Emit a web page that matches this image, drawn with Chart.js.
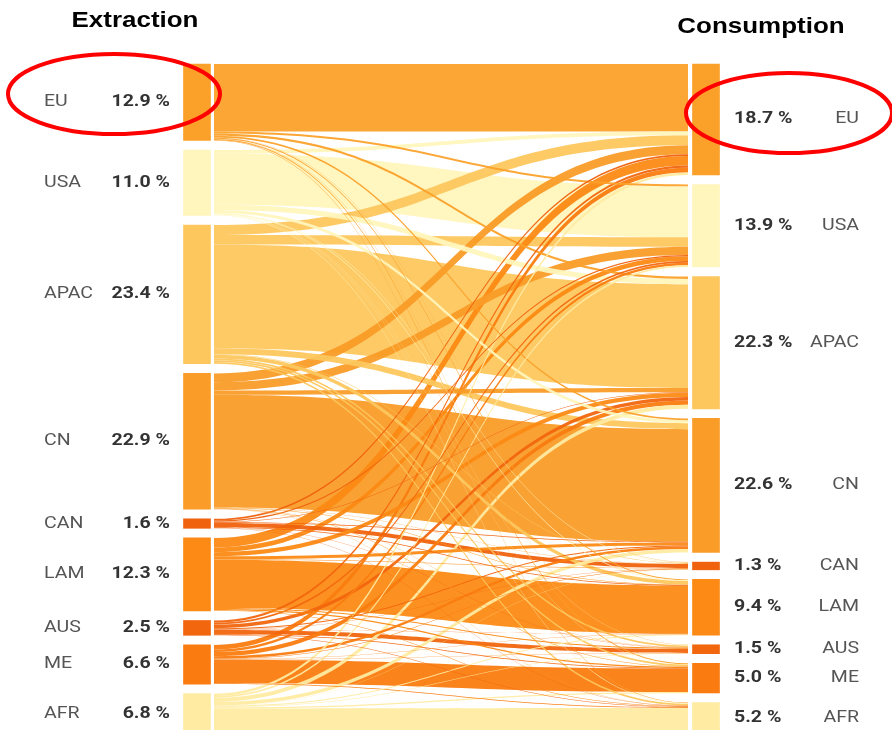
<!DOCTYPE html>
<html>
<head>
<meta charset="utf-8">
<script src="https://cdn.jsdelivr.net/npm/chart.js@4.4.0/dist/chart.umd.min.js"></script>
<style>
  html, body { margin: 0; padding: 0; background: #fff; overflow: hidden; }
  .wrap { position: relative; width: 892px; height: 742px; }
</style>
</head>
<body>
<div class="wrap"><canvas id="sankey"></canvas></div>
<script>
// Regions, same order on both sides
const regions = ['EU', 'USA', 'APAC', 'CN', 'CAN', 'LAM', 'AUS', 'ME', 'AFR'];
const columnTitles = ['Extraction', 'Consumption'];

// Share of extraction (left) and of consumption (right), in %
const extraction = [12.9, 11.0, 23.4, 22.9, 1.6, 12.3, 2.5, 6.6, 6.8];
const consumption = [18.7, 13.9, 22.3, 22.6, 1.3, 9.4, 1.5, 5.0, 5.2];

// Flows from each extracting region to EU, USA, APAC, CN, CAN, LAM, AUS, ME, AFR
// (read off the ribbon widths, so only estimates)
const fromEU   = [11.4, 0.3, 0.4, 0.3, 0.05, 0.15, 0.05, 0.15, 0.1];
const fromUSA  = [0.6, 8.6, 0.9, 0.5, 0.1, 0.1, 0.05, 0.05, 0.1];
const fromAPAC = [1.7, 1.6, 17.5, 1.0, 0.1, 0.6, 0.3, 0.3, 0.3];
const fromCN   = [1.5, 1.4, 0.7, 19.0, 0.05, 0.1, 0.05, 0.05, 0.05];
const fromCAN  = [0.3, 0.2, 0.1, 0.1, 0.7, 0.1, 0.03, 0.04, 0.03];
const fromLAM  = [1.6, 0.8, 0.7, 0.5, 0.1, 8.1, 0.2, 0.2, 0.1];
const fromAUS  = [0.4, 0.3, 0.6, 0.2, 0.05, 0.05, 0.7, 0.1, 0.1];
const fromME   = [0.8, 0.4, 0.7, 0.4, 0.1, 0.05, 0.05, 3.95, 0.15];
const fromAFR  = [0.4, 0.3, 0.7, 0.6, 0.05, 0.15, 0.1, 0.2, 4.3];
const flows = [fromEU, fromUSA, fromAPAC, fromCN, fromCAN, fromLAM, fromAUS, fromME, fromAFR];

// Node colours
const colors = ['#FBA12A', '#FFF6BD', '#FDC75E', '#FA9C28', '#F0620E', '#FC8A14', '#F2660E', '#FA7C10', '#FFEBA2'];

// Stack the nodes with a small gap between them
const GAP = 1.62;
function stackRanges(values) {
    let pos = 0;
    return values.map(v => {
        const r = [pos, pos + v];
        pos += v + GAP;
        return r;
    });
}
const leftRanges = stackRanges(extraction);
const rightRanges = stackRanges(consumption);
const yMax = extraction.reduce((a, b) => a + b, 0) + GAP * (regions.length - 1);

// Draw text with a little horizontal stretch, like the original image
function drawText(ctx, text, x, y, align, font, color, sx) {
    ctx.save();
    ctx.translate(x, y);
    ctx.scale(sx, 1);
    ctx.font = font;
    ctx.fillStyle = color;
    ctx.textAlign = align;
    ctx.textBaseline = 'middle';
    ctx.fillText(text, 0, 0);
    ctx.restore();
}

// Ribbons between the two columns of nodes
const flowPlugin = {
    id: 'flows',
    beforeDatasetsDraw(chart) {
        const { ctx, scales: { x, y } } = chart;
        const xa = x.getPixelForValue(0) + 17;
        const xb = x.getPixelForValue(1) - 18;
        const xm = (xa + xb) / 2;
        const outPos = leftRanges.map(r => r[0]);
        const inPos = rightRanges.map(r => r[0]);
        const links = [];
        flows.forEach((row, s) => {
            row.forEach((v, t) => {
                links.push({ s, v, a: outPos[s], b: inPos[t] });
                outPos[s] += v;
                inPos[t] += v;
            });
        });
        // big ribbons first, thin ones on top
        links.sort((p, q) => q.v - p.v);
        ctx.save();
        ctx.globalAlpha = 0.95;
        links.forEach(l => {
            const a0 = y.getPixelForValue(l.a);
            const a1 = y.getPixelForValue(l.a + l.v);
            const b0 = y.getPixelForValue(l.b);
            const b1 = y.getPixelForValue(l.b + l.v);
            ctx.beginPath();
            ctx.moveTo(xa, a0);
            ctx.bezierCurveTo(xm, a0, xm, b0, xb, b0);
            ctx.lineTo(xb, b1);
            ctx.bezierCurveTo(xm, b1, xm, a1, xa, a1);
            ctx.closePath();
            ctx.fillStyle = colors[l.s];
            ctx.fill();
        });
        ctx.restore();
    }
};

// Titles, labels and the red ellipses
const labelPlugin = {
    id: 'labels',
    afterDraw(chart) {
        const { ctx, scales: { y } } = chart;
        drawText(ctx, columnTitles[0], 135, 21, 'center', 'bold 22px "Liberation Sans", Arial', '#000', 1.18);
        drawText(ctx, columnTitles[1], 761, 27, 'center', 'bold 22px "Liberation Sans", Arial', '#000', 1.18);

        regions.forEach((r, i) => {
            const yl = y.getPixelForValue((leftRanges[i][0] + leftRanges[i][1]) / 2);
            drawText(ctx, r, 44, yl, 'left', '16px Roboto', '#555', 1.22);
            drawText(ctx, extraction[i].toFixed(1) + ' %', 170, yl, 'right', 'bold 16px Roboto', '#333', 1.22);
            const yr = y.getPixelForValue((rightRanges[i][0] + rightRanges[i][1]) / 2);
            drawText(ctx, consumption[i].toFixed(1) + ' %', 734, yr, 'left', 'bold 16px Roboto', '#333', 1.22);
            drawText(ctx, r, 859, yr, 'right', '16px Roboto', '#555', 1.22);
        });

        ctx.save();
        ctx.strokeStyle = '#FF0000';
        ctx.lineWidth = 4;
        ctx.beginPath();
        ctx.ellipse(114, 94, 106, 40, 0, 0, Math.PI * 2);
        ctx.stroke();
        ctx.beginPath();
        ctx.ellipse(789, 113, 103, 40, 0, 0, Math.PI * 2);
        ctx.stroke();
        ctx.restore();
    }
};

new Chart(document.getElementById('sankey'), {
    type: 'bar',
    data: {
        datasets: regions.map((r, i) => ({
            label: r,
            data: [{ x: 0, y: leftRanges[i] }, { x: 1, y: rightRanges[i] }],
            backgroundColor: colors[i],
            borderWidth: 0,
            grouped: false,
            clip: false,
            barPercentage: 1,
            categoryPercentage: 1,
            maxBarThickness: 27
        }))
    },
    options: {
        responsive: true,
        maintainAspectRatio: false,
        animation: false,
        layout: { padding: { left: 197, right: 186, top: 64, bottom: 8 } },
        plugins: {
            legend: { display: false },
            tooltip: { enabled: false }
        },
        scales: {
            x: { type: 'linear', min: 0, max: 1, offset: false, display: false },
            y: { type: 'linear', min: 0, max: yMax, reverse: true, display: false }
        }
    },
    plugins: [flowPlugin, labelPlugin]
});
</script>
</body>
</html>
